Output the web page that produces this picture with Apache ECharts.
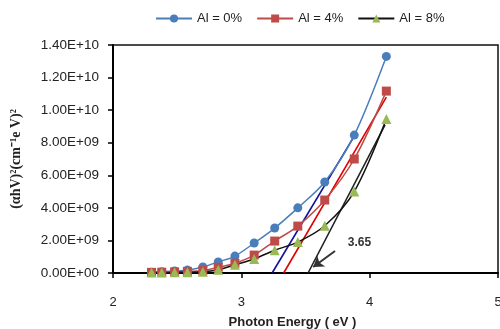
<!DOCTYPE html>
<html>
<head>
<meta charset="utf-8">
<script src="https://cdn.jsdelivr.net/npm/echarts@6/dist/echarts.min.js"></script>
<style>
  html, body { margin: 0; padding: 0; background: #fff; }
  #chart { width: 500px; height: 329px; }
</style>
</head>
<body>
<div id="chart"></div>
<script>
// photon energy (eV)
const energy = [2.30, 2.38, 2.48, 2.58, 2.70, 2.82, 2.95, 3.10, 3.26, 3.44, 3.65, 3.88, 4.13];
// (ahv)^2 values
const al0 = [0.05e9, 0.08e9, 0.12e9, 0.18e9, 0.37e9, 0.68e9, 1.04e9, 1.84e9, 2.76e9, 4.0e9, 5.59e9, 8.47e9, 13.3e9];
const al4 = [0.04e9, 0.05e9, 0.07e9, 0.1e9, 0.15e9, 0.35e9, 0.6e9, 1.1e9, 1.96e9, 2.88e9, 4.48e9, 7.0e9, 11.17e9];
const al8 = [0.03e9, 0.03e9, 0.04e9, 0.05e9, 0.07e9, 0.2e9, 0.5e9, 0.86e9, 1.4e9, 1.9e9, 2.9e9, 5.0e9, 9.45e9];

// tangent (extrapolation) lines
const tangent0 = [[3.24, 0], [3.88, 8.4e9]];
const tangent4 = [[3.33, 0], [4.13, 10.8e9]];
const tangent8 = [[3.52, 0], [4.12, 9.1e9]];

// annotation
const arrowFrom = [3.73, 1.35e9];
const arrowTo = [3.56, 0.37e9];
const gapLabel = '3.65';
const gapLabelAt = [3.92, 1.84e9];

const names = ['Al = 0%', 'Al = 4%', 'Al = 8%'];

const pairs = (ys) => energy.map((x, i) => [x, ys[i]]);

const sciLabel = (v) => {
  if (v === 0) return '0.00E+00';
  const e = Math.floor(Math.log10(v));
  const m = (v / Math.pow(10, e)).toFixed(2);
  return m + 'E+' + (e < 10 ? '0' + e : e);
};

const chart = echarts.init(document.getElementById('chart'));

const font = 'Liberation Sans';

const option = {
  animation: false,
  legend: {
    data: names,
    top: 7,
    left: 150,
    itemWidth: 36,
    itemHeight: 10,
    itemGap: 14,
    textStyle: { fontFamily: font, fontSize: 13, color: '#222' },
  },
  grid: {
    left: 113,
    right: 2,
    top: 45,
    bottom: 56,
    outerBoundsMode: 'none',
    containLabel: false,
    show: true,
    borderColor: '#111',
    borderWidth: 1.5,
  },
  xAxis: {
    type: 'value',
    min: 2,
    max: 5,
    interval: 1,
    name: 'Photon Energy ( eV )',
    nameLocation: 'middle',
    nameGap: 43,
    nameTextStyle: { fontFamily: font, fontSize: 13, fontWeight: 'bold', color: '#222', padding: [0, 26, 0, 0] },
    splitLine: { show: false },
    axisLine: { show: true, lineStyle: { color: '#000', width: 2 } },
    axisTick: { show: true, length: 5, lineStyle: { color: '#000', width: 1.5 } },
    axisLabel: { fontFamily: font, fontSize: 13, color: '#222', margin: 23 },
  },
  yAxis: {
    type: 'value',
    min: 0,
    max: 1.4e10,
    interval: 2e9,
    name: '(αhV)²(cm⁻¹e V)²',
    nameLocation: 'middle',
    nameGap: 90,
    nameTextStyle: { fontFamily: 'Liberation Serif', fontSize: 14, fontWeight: 'bold', color: '#222' },
    splitLine: { show: false },
    axisLine: { show: true, lineStyle: { color: '#000', width: 2 } },
    axisTick: { show: true, length: 5, lineStyle: { color: '#000', width: 1.5 } },
    axisLabel: { fontFamily: font, fontSize: 13.5, color: '#222', margin: 14, formatter: sciLabel },
  },
  series: [
    {
      name: names[0],
      type: 'line',
      smooth: 0.3,
      data: pairs(al0),
      symbol: 'circle',
      symbolSize: 9,
      lineStyle: { color: '#4A7EBB', width: 1.5 },
      itemStyle: { color: '#4A7EBB' },
      z: 3,
    },
    {
      name: names[1],
      type: 'line',
      smooth: 0.3,
      data: pairs(al4),
      symbol: 'rect',
      symbolSize: 9,
      lineStyle: { color: '#BE4B48', width: 1.5 },
      itemStyle: { color: '#BE4B48' },
      z: 3,
    },
    {
      name: names[2],
      type: 'line',
      smooth: 0.3,
      data: pairs(al8),
      symbol: 'triangle',
      symbolSize: 10,
      lineStyle: { color: '#111', width: 1.5 },
      itemStyle: { color: '#98B954' },
      z: 3,
    },
    {
      type: 'line',
      data: tangent0,
      symbol: 'none',
      lineStyle: { color: '#10109A', width: 1.6 },
      z: 2,
    },
    {
      type: 'line',
      data: tangent4,
      symbol: 'none',
      lineStyle: { color: '#E00000', width: 1.6 },
      z: 2,
    },
    {
      type: 'line',
      data: tangent8,
      symbol: 'none',
      lineStyle: { color: '#222', width: 1.6 },
      z: 2,
      markLine: {
        silent: true,
        symbol: ['none', 'arrow'],
        symbolSize: [10, 10],
        lineStyle: { color: '#333', width: 2, type: 'solid' },
        label: { show: false },
        data: [[{ coord: arrowFrom }, { coord: arrowTo }]],
      },
      markPoint: {
        silent: true,
        symbol: 'circle',
        symbolSize: 1,
        itemStyle: { color: 'rgba(0,0,0,0)' },
        label: {
          show: true,
          formatter: gapLabel,
          fontFamily: font,
          fontSize: 12,
          fontWeight: 'bold',
          color: '#333',
        },
        data: [{ coord: gapLabelAt }],
      },
    },
  ],
};

chart.setOption(option);
</script>
</body>
</html>
